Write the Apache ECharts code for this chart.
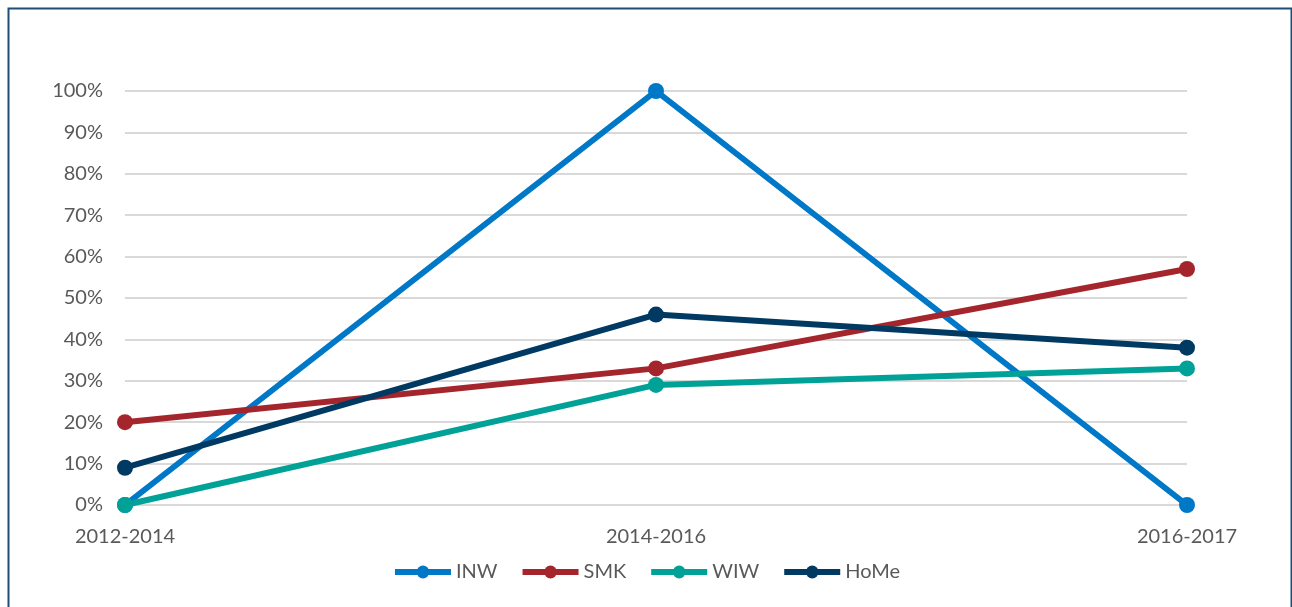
<!DOCTYPE html>
<html>
<head>
<meta charset="utf-8">
<script src="https://cdn.jsdelivr.net/npm/echarts@6/dist/echarts.min.js"></script>
<style>
  html, body { margin: 0; padding: 0; background: #fff; }
  #chart { width: 1292px; height: 607px; }
</style>
</head>
<body>
<div id="chart"></div>
<script>
const periods = ["2012-2014", "2014-2016", "2016-2017"];
const inw = [0, 100, 0];
const smk = [20, 33, 57];
const wiw = [0, 29, 33];
const home = [9, 46, 38];

const COLORS = {
  inw: "#0078c8",
  smk: "#a4262c",
  wiw: "#00a297",
  home: "#003a63",
};

const chart = echarts.init(document.getElementById("chart"));

function lineSeries(name, data, color) {
  return {
    name: name,
    type: "line",
    data: data,
    symbol: "circle",
    symbolSize: 16,
    lineStyle: { width: 6, color: color },
    itemStyle: { color: color },
    emphasis: { disabled: true },
  };
}

chart.setOption({
  animation: false,
  textStyle: { fontFamily: "Lato", color: "#595959" },
  graphic: [
    {
      type: "rect",
      left: 6,
      top: 6,
      shape: { width: 1283, height: 640 },
      style: { fill: "none", stroke: "#1f4e79", lineWidth: 2 },
      silent: true,
    },
  ],
  grid: { left: 125, right: 105, top: 91, bottom: 102, containLabel: false },
  legend: {
    bottom: 20,
    left: "center",
    itemWidth: 56,
    itemHeight: 16,
    itemGap: 22,
    lineStyle: { width: 6 },
    textStyle: { fontSize: 20, color: "#595959", fontFamily: "Lato" },
    data: ["INW", "SMK", "WIW", "HoMe"],
  },
  xAxis: {
    type: "category",
    data: periods,
    boundaryGap: false,
    axisLine: { show: false },
    axisTick: { show: false },
    axisLabel: { fontSize: 20, color: "#595959", margin: 22 },
  },
  yAxis: {
    type: "value",
    min: 0,
    max: 100,
    interval: 10,
    axisLine: { show: false },
    axisTick: { show: false },
    axisLabel: { formatter: "{value}%", fontSize: 20, color: "#595959", margin: 22 },
    splitLine: { lineStyle: { color: "#d9d9d9", width: 2 } },
  },
  series: [
    lineSeries("INW", inw, COLORS.inw),
    lineSeries("SMK", smk, COLORS.smk),
    lineSeries("WIW", wiw, COLORS.wiw),
    lineSeries("HoMe", home, COLORS.home),
  ],
});
</script>
</body>
</html>
